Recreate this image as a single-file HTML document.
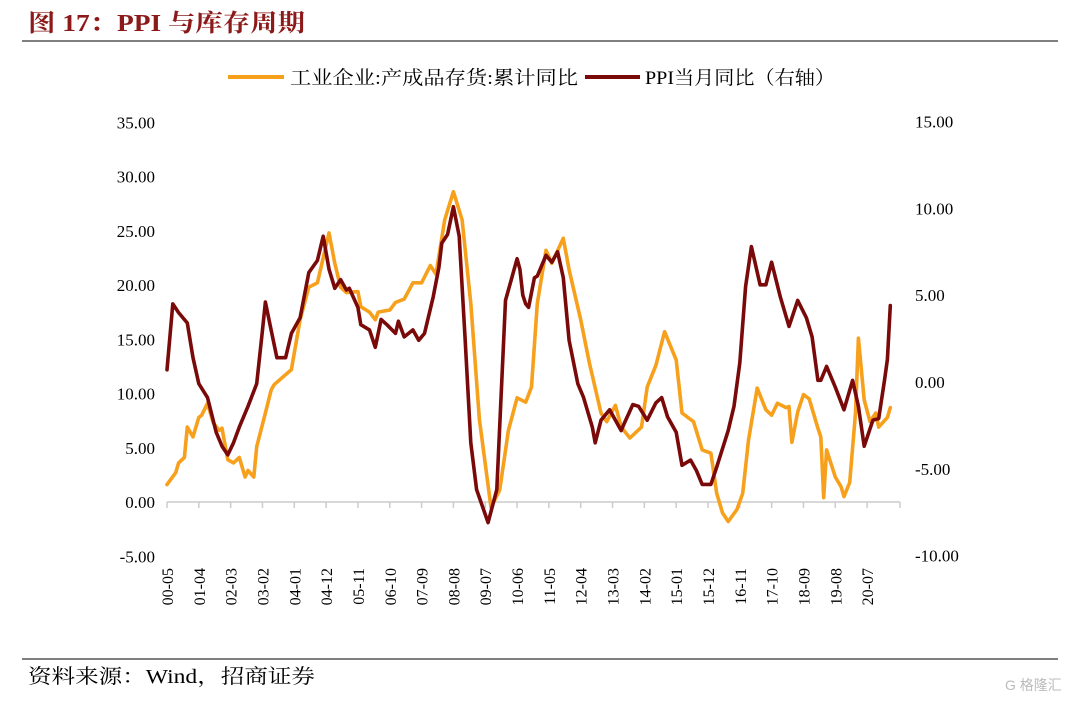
<!DOCTYPE html>
<html><head><meta charset="utf-8"><style>
body{margin:0;width:1080px;height:703px;background:#fff;overflow:hidden;font-family:"Liberation Serif","Noto Serif CJK SC",serif}
</style></head><body>
<svg width="1080" height="703" viewBox="0 0 1080 703" style="position:absolute;left:0;top:0">
<text x="28" y="31" font-size="24" font-weight="bold" fill="#8c1a1a" textLength="277" lengthAdjust="spacingAndGlyphs" font-family="'Liberation Serif','Noto Serif CJK SC',serif">图 17：PPI 与库存周期</text>
<line x1="22" y1="41" x2="1058" y2="41" stroke="#333" stroke-width="1.3"/>
<g font-size="19">
 <g><line x1="228" y1="77" x2="284" y2="77" stroke="#f7a01c" stroke-width="4"/><text x="290" y="84" textLength="288" lengthAdjust="spacingAndGlyphs">工业企业:产成品存货:累计同比</text></g>
 <g><line x1="585" y1="77" x2="640" y2="77" stroke="#7a0a0a" stroke-width="4"/><text x="645" y="84" textLength="190" lengthAdjust="spacingAndGlyphs">PPI当月同比（右轴）</text></g>
</g>
<g id="yl"></g>
<g id="yr"></g>
<g id="xa"></g>
<g id="series"></g>
<line x1="22" y1="659" x2="1058" y2="659" stroke="#333" stroke-width="1.3"/>
<text x="28" y="683" font-size="20" textLength="287" lengthAdjust="spacingAndGlyphs">资料来源：Wind，招商证券</text>
<text x="1005" y="690" font-size="14" fill="#bbb" font-family="'Liberation Sans','Noto Sans CJK SC',sans-serif">G 格隆汇</text>
</svg>
<script>
const leftTicks=[35,30,25,20,15,10,5,0,-5];
const rightTicks=[15,10,5,0,-5,-10];
const xLabels=["00-05","01-04","02-03","03-02","04-01","04-12","05-11","06-10","07-09","08-08","09-07","10-06","11-05","12-04","13-03","14-02","15-01","15-12","16-11","17-10","18-09","19-08","20-07"];
// month offsets since 2000-05
const invMonths=[0,3,4,6,7,9,11,12,14,16,18,19,21,23,25,27,28,30,31,34,36,37,40,43,46,49,52,56,58,60,62,66,67,70,72,73,77,79,82,85,88,91,93,96,99,102,105,108,112,115,118,121,124,126,128,131,133,137,139,143,146,150,152,155,157,160,164,166,169,172,176,178,182,185,188,190,192,194,197,199,201,204,207,209,211,214,215,216,218,220,222,225,226,227,228,231,233,234,236,238,239,241,243,245,246,249,250];
const invValues=[1.6,2.7,3.6,4.1,6.9,6.0,7.8,8.0,9.1,7.3,6.6,6.8,3.9,3.6,4.1,2.3,2.9,2.3,5.1,8.2,10.3,10.8,11.5,12.2,16.8,19.8,20.2,24.8,22.0,19.8,19.3,19.4,18.0,17.5,16.8,17.5,17.7,18.4,18.7,20.2,20.2,21.8,21.0,26.0,28.6,26.0,18.3,7.6,-0.5,1.1,6.6,9.6,9.2,10.6,18.3,23.2,22.0,24.3,21.4,16.8,12.8,8.2,7.4,8.9,6.9,5.9,6.9,10.6,12.6,15.7,13.1,8.2,7.4,4.8,4.5,0.8,-1.0,-1.8,-0.7,0.8,5.7,10.5,8.5,8.0,9.1,8.7,8.8,5.5,8.3,9.9,9.5,6.8,6.0,0.4,4.8,2.3,1.4,0.5,1.8,8.2,15.1,9.4,7.4,8.2,6.9,7.8,8.7];
const ppiMonths=[0,2,4,7,9,11,14,17,19,21,23,25,28,31,33,34,36,38,41,43,46,49,52,54,56,58,60,62,63,66,67,70,72,74,76,79,80,82,85,87,89,92,94,95,97,99,101,103,105,107,111,114,117,119,121,122,123,124,125,127,128,131,133,135,137,139,142,144,147,148,150,153,157,158,161,163,166,169,171,173,176,178,181,183,185,188,190,194,196,198,200,202,205,207,209,212,215,218,221,223,225,226,228,231,234,237,239,241,244,246,248,249,250];
const ppiValues=[0.7,4.5,4.0,3.4,1.4,-0.1,-0.9,-2.9,-3.7,-4.2,-3.5,-2.6,-1.4,-0.1,3.0,4.6,3.0,1.4,1.4,2.8,3.7,6.3,7.0,8.4,6.5,5.4,5.9,5.3,5.4,4.3,3.3,3.0,2.0,3.6,3.3,2.8,3.5,2.6,3.0,2.4,2.8,4.9,6.6,8.0,8.5,10.1,8.4,2.6,-3.5,-6.2,-8.1,-6.2,4.7,5.9,7.1,6.5,5.0,4.5,4.3,6.0,6.1,7.3,6.9,7.5,6.0,2.4,-0.1,-0.9,-2.6,-3.5,-2.2,-1.6,-2.8,-2.4,-1.3,-1.4,-2.2,-1.2,-0.9,-2.0,-2.9,-4.8,-4.5,-5.1,-5.9,-5.9,-4.9,-2.8,-1.4,1.1,5.5,7.8,5.6,5.6,6.9,4.9,3.2,4.7,3.7,2.6,0.1,0.1,0.9,-0.3,-1.6,0.1,-1.4,-3.7,-2.2,-2.1,0.1,1.3,4.4];

const NS="http://www.w3.org/2000/svg";
const X0=167,PXM=2.893;
const xs=m=>X0+m*PXM;
const yL=v=>502-v*10.85;
const yR=v=>382-v*17.36;
function mk(tag,attrs,parent){const e=document.createElementNS(NS,tag);for(const k in attrs)e.setAttribute(k,attrs[k]);parent.appendChild(e);return e;}
const yl=document.getElementById('yl'),yr=document.getElementById('yr'),xa=document.getElementById('xa'),sg=document.getElementById('series');
leftTicks.forEach(v=>{const t=mk('text',{x:155,y:yL(v)+6,'text-anchor':'end','font-size':17},yl);t.textContent=v.toFixed(2);

});
rightTicks.forEach(v=>{const t=mk('text',{x:915,y:yR(v)+6,'font-size':17},yr);t.textContent=v.toFixed(2);

});
const axl=mk('line',{x1:X0,y1:502,x2:900,y2:502,stroke:'#ccc','stroke-width':1.5},xa);


xLabels.forEach((l,i)=>{const x=xs(i*11);
const tk=mk('line',{x1:x,y1:502,x2:x,y2:508,stroke:'#ccc','stroke-width':1.5},xa);


const t=mk('text',{x:0,y:0,'text-anchor':'end','font-size':16,transform:`translate(${x+6},568) rotate(-90)`},xa);t.textContent=l;

});
const endT=mk('line',{x1:900,y1:502,x2:900,y2:508,stroke:'#ccc','stroke-width':1.5},xa);


function line(ms,vs,yf,col,name){const p=mk('polyline',{points:ms.map((m,i)=>xs(m).toFixed(1)+','+yf(vs[i]).toFixed(1)).join(' '),fill:'none',stroke:col,'stroke-width':3.6,'stroke-linejoin':'round','stroke-linecap':'round'},sg);

}
line(invMonths,invValues,yL,'#f7a01c','inventory-line');
line(ppiMonths,ppiValues,yR,'#7a0a0a','ppi-line');
</script>
</body></html>
